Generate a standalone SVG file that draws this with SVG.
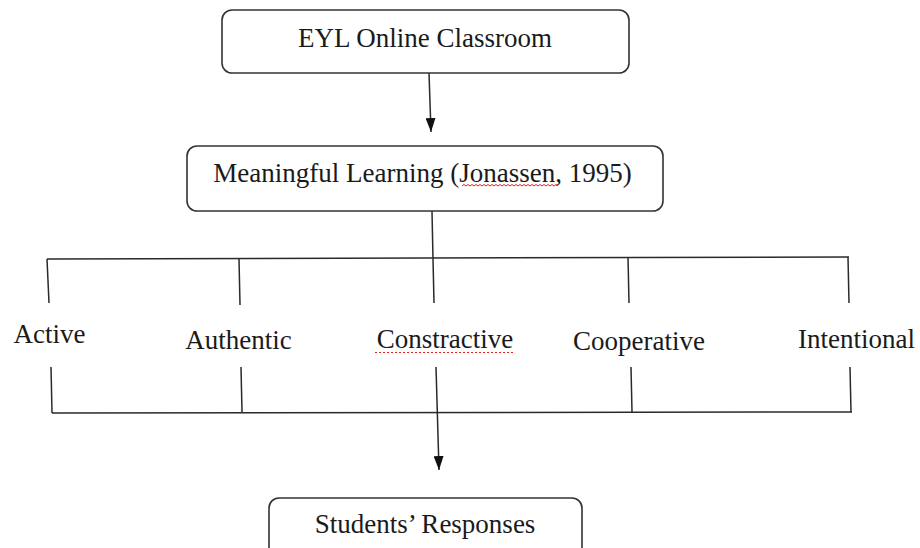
<svg xmlns="http://www.w3.org/2000/svg" width="920" height="548" viewBox="0 0 920 548">
  <defs>
    <marker id="arrow" viewBox="0 0 14 10" markerWidth="14" markerHeight="10" refX="14" refY="5" orient="auto" markerUnits="userSpaceOnUse">
      <path d="M0,0 L14,5 L0,10 z" fill="#111"/>
    </marker>
    <style>
      .box { fill: #fff; stroke: #333; stroke-width: 1.6; }
      .lbl { font-family: "Liberation Serif", "Times New Roman", serif; font-size: 27px; fill: #1a1a1a; text-anchor: middle; }
      .ln { fill: none; stroke: #2a2a2a; stroke-width: 1.5; }
      .squiggle { fill: none; stroke: #e02020; stroke-width: 1; }
    </style>
  </defs>
  <rect width="920" height="548" fill="#fff"/>

  <!-- connectors -->
  <g id="connectors">
    <line class="ln" x1="429" y1="73" x2="431" y2="132" marker-end="url(#arrow)"/>
    <polyline class="ln" points="432,211 433,259 434,303"/>
    <line class="ln" x1="47" y1="259" x2="849" y2="257"/>
    <line class="ln" x1="47" y1="259" x2="49" y2="303"/>
    <line class="ln" x1="239" y1="259" x2="240" y2="305"/>
    <line class="ln" x1="628" y1="257" x2="629" y2="303"/>
    <line class="ln" x1="848" y1="257" x2="849" y2="303"/>
    <line class="ln" x1="52" y1="413" x2="852" y2="412"/>
    <line class="ln" x1="51" y1="367" x2="52" y2="413"/>
    <line class="ln" x1="241" y1="367" x2="242" y2="412"/>
    <line class="ln" x1="631" y1="367" x2="632" y2="412"/>
    <line class="ln" x1="850" y1="367" x2="851" y2="412"/>
    <line class="ln" x1="436" y1="367" x2="439" y2="470" marker-end="url(#arrow)"/>
  </g>

  <g id="eyl-online-classroom">
    <rect class="box" x="222" y="10" width="407" height="63" rx="10"/>
    <text class="lbl" x="425" y="47">EYL Online Classroom</text>
  </g>

  <g id="meaningful-learning">
    <rect class="box" x="187" y="146" width="476" height="65" rx="10"/>
    <text class="lbl" x="422.5" y="182">Meaningful Learning (Jonassen, 1995)</text>
    <path class="squiggle" d="M462,186 l2,-1.5 l2,1.5 l2,-1.5 l2,1.5 l2,-1.5 l2,1.5 l2,-1.5 l2,1.5 l2,-1.5 l2,1.5 l2,-1.5 l2,1.5 l2,-1.5 l2,1.5 l2,-1.5 l2,1.5 l2,-1.5 l2,1.5 l2,-1.5 l2,1.5 l2,-1.5 l2,1.5 l2,-1.5 l2,1.5 l2,-1.5 l2,1.5 l2,-1.5 l2,1.5 l2,-1.5 l2,1.5 l2,-1.5 l2,1.5 l2,-1.5 l2,1.5 l2,-1.5 l2,1.5 l2,-1.5 l2,1.5 l2,-1.5 l2,1.5 l2,-1.5 l2,1.5 l2,-1.5 l2,1.5 l2,-1.5 l2,1.5 l2,-1.5 l2,1.5"/>
  </g>

  <g id="active">
    <text class="lbl" x="49.5" y="343">Active</text>
  </g>
  <g id="authentic">
    <text class="lbl" x="238.5" y="349">Authentic</text>
  </g>
  <g id="constractive">
    <text class="lbl" x="445" y="348">Constractive</text>
    <path class="squiggle" stroke-dasharray="2 2" d="M375,352.5 L515,352.5"/>
  </g>
  <g id="cooperative">
    <text class="lbl" x="639" y="350">Cooperative</text>
  </g>
  <g id="intentional">
    <text class="lbl" x="856.5" y="348">Intentional</text>
  </g>

  <g id="students-responses">
    <rect class="box" x="269" y="498" width="313" height="70" rx="10"/>
    <text class="lbl" x="425" y="533">Students’ Responses</text>
  </g>
</svg>
